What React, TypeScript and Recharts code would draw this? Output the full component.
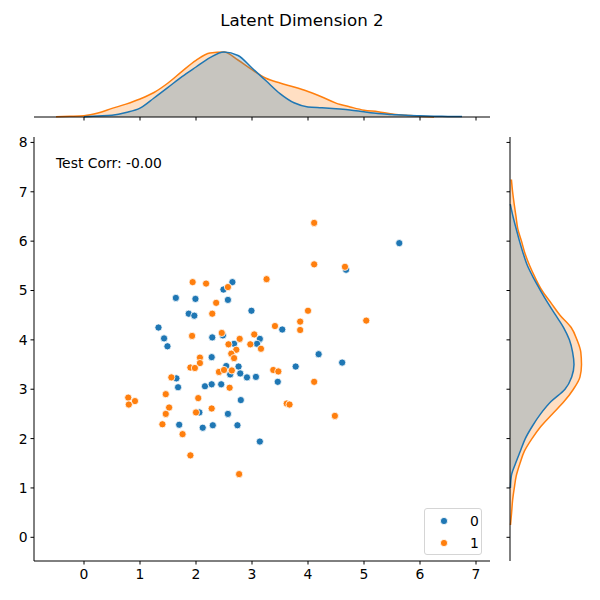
import React from "react"
import { ScatterChart, Scatter, XAxis, YAxis, AreaChart, Area } from "recharts"

// latent dim 1 (x) vs latent dim 2 (y), per class
const class0Points: [number, number][] = [
  [5.63, 5.96], [4.68, 5.42], [2.65, 5.17], [2.49, 5.02], [2.57, 4.81], [1.64, 4.85],
  [1.99, 4.83], [2.99, 4.59], [1.87, 4.53], [1.97, 4.49], [3.54, 4.21], [1.33, 4.25],
  [1.43, 4.03], [1.49, 3.87], [2.29, 4.05], [2.48, 4.09], [3.14, 4.02], [3.09, 3.92],
  [2.68, 3.92], [4.19, 3.71], [4.61, 3.54], [2.28, 3.65], [2.54, 3.47], [2.76, 3.46],
  [3.78, 3.46], [2.61, 3.3], [2.79, 3.32], [2.91, 3.24], [3.07, 3.25], [1.65, 3.22],
  [1.68, 3.04], [2.16, 3.06], [2.28, 3.1], [2.45, 3.1], [3.46, 3.15], [2.8, 2.78],
  [2.06, 2.53], [2.57, 2.5], [1.7, 2.28], [2.12, 2.22], [2.3, 2.27], [2.74, 2.27],
  [3.14, 1.94],
]

const class1Points: [number, number][] = [
  [4.11, 6.37], [4.11, 5.53], [4.66, 5.48], [3.26, 5.23], [1.94, 5.17], [2.18, 5.14],
  [2.57, 5.07], [2.36, 4.75], [2.29, 4.53], [4.0, 4.59], [5.04, 4.39], [3.41, 4.28],
  [3.86, 4.37], [3.86, 4.2], [1.93, 4.08], [2.46, 4.14], [3.04, 4.11], [2.78, 4.02],
  [2.58, 3.91], [2.97, 3.91], [3.16, 3.82], [2.72, 3.8], [2.63, 3.72], [2.68, 3.63],
  [2.07, 3.64], [2.07, 3.53], [1.9, 3.44], [1.98, 3.43], [2.41, 3.35], [2.5, 3.39],
  [2.64, 3.38], [3.38, 3.39], [3.47, 3.36], [1.56, 3.24], [4.11, 3.15], [2.6, 3.03],
  [0.79, 2.83], [0.91, 2.76], [0.8, 2.69], [1.46, 2.9], [2.04, 2.82], [1.52, 2.63],
  [2.28, 2.61], [1.46, 2.5], [2.0, 2.53], [3.62, 2.71], [3.67, 2.69], [4.48, 2.46],
  [1.4, 2.29], [1.76, 2.09], [1.9, 1.66], [2.77, 1.28],
]

// marginal density of x (relative units)
const kdeXGrid = [
  -0.75, -0.5, -0.25, 0, 0.25, 0.5, 0.75, 1, 1.25, 1.5, 1.75, 2, 2.25, 2.5, 2.75, 3,
  3.25, 3.5, 3.75, 4, 4.25, 4.5, 4.75, 5, 5.25, 5.5, 5.75, 6, 6.25, 6.5, 6.75, 7,
]
const kdeX0 = [
  null, null, null, 0.3, 1, 1.8, 4.5, 8.8, 19, 29.6, 40.4, 50, 59.4, 65, 61.5, 49,
  36.2, 23.4, 14.2, 10.1, 9.2, 8.2, 7.1, 5.2, 3.5, 2.6, 1.7, 1.2, 0.8, 0.6, 0.4, null,
]
const kdeX1 = [
  null, 0.3, 0.7, 1.3, 4, 8.6, 12.9, 18, 24.5, 34, 45.7, 56.7, 64, 65, 57, 47.3,
  38.8, 34, 30, 25.5, 20, 13.9, 10.1, 6.8, 5.3, 2.9, 1.8, 0.7, 0.1, null, null, null,
]

// marginal density of y (relative units)
const kdeYGrid = [
  0, 0.25, 0.5, 0.75, 1, 1.25, 1.5, 1.75, 2, 2.25, 2.5, 2.75, 3, 3.25, 3.5, 3.75,
  4, 4.25, 4.5, 4.75, 5, 5.25, 5.5, 5.75, 6, 6.25, 6.5, 6.75, 7, 7.25, 7.5,
]
const kdeY0 = [
  null, null, null, null, 0.4, 1.4, 5.6, 10.4, 15.3, 22.3, 30.6, 41, 55, 61.7, 64, 62.6,
  59.4, 53.6, 45.7, 37.8, 30.5, 23.6, 17.5, 13.2, 9.5, 6.2, 3, 0.3, null, null, null,
]
const kdeY1 = [
  null, 0.5, 1.6, 2.6, 4.3, 6.3, 10, 14.5, 22, 31, 42.4, 54, 63.4, 70, 71.5, 70.8,
  67, 61.2, 50, 41, 32, 25.4, 19.7, 15, 11.5, 7.8, 6, 4.2, 2.6, 1.4, null,
]

const xTicks = [0, 1, 2, 3, 4, 5, 6, 7]
const yTicks = [0, 1, 2, 3, 4, 5, 6, 7, 8]

const BLUE = "#1f77b4"
const ORANGE = "#ff7f0e"
const X_DOMAIN: [number, number] = [-0.893, 7.25]
const Y_DOMAIN: [number, number] = [-0.48, 8.11]
const FONT = '"DejaVu Sans", sans-serif'

const scatter0 = class0Points.map(([x, y]) => ({ x, y }))
const scatter1 = class1Points.map(([x, y]) => ({ x, y }))
const margX = kdeXGrid.map((x, i) => ({ x, c0: kdeX0[i], c1: kdeX1[i] }))
const margY = kdeYGrid.map((y, i) => ({ y, c0: kdeY0[i], c1: kdeY1[i] }))

const tickStyle = { fill: "#000", fontSize: 13.9, fontFamily: FONT }
const axisLine = { stroke: "#000", strokeWidth: 1 }
// marginal axes keep their tick marks but drop the labels
const noLabel = () => <g />

const dot = (color: string) => (props: any) => (
  <circle cx={props.cx} cy={props.cy} r={3.6} fill={color} stroke="#fff" strokeWidth={0.8} />
)

function LegendBox() {
  const rows = [
    { label: "0", color: BLUE },
    { label: "1", color: ORANGE },
  ]
  return (
    <div
      style={{
        position: "absolute", left: 424, top: 508, width: 58, height: 47, boxSizing: "border-box",
        border: "1px solid #d5d5d5", borderRadius: 3, background: "rgba(255,255,255,0.8)",
      }}
    >
      {rows.map((r, i) => (
        <div key={r.label} style={{ position: "absolute", left: 0, top: 3 + i * 22, height: 18, width: 56 }}>
          <svg width={30} height={18} style={{ position: "absolute", left: 4, top: 0 }}>
            <circle cx={15} cy={9} r={3.6} fill={r.color} stroke="#fff" strokeWidth={0.8} />
          </svg>
          <span style={{ position: "absolute", left: 45, top: 0, lineHeight: "18px", fontSize: 13.9 }}>{r.label}</span>
        </div>
      ))}
    </div>
  )
}

export default function App() {
  return (
    <div
      style={{
        position: "absolute", left: 0, top: 0, width: 600, height: 600,
        background: "#fff", fontFamily: FONT, color: "#000",
      }}
    >
      <div style={{ position: "absolute", left: 0, top: 10, width: 604, textAlign: "center", fontSize: 16.7, lineHeight: "20px" }}>
        Latent Dimension 2
      </div>

      {/* top marginal */}
      <div style={{ position: "absolute", left: 0, top: 0 }}>
        <AreaChart width={600} height={140} data={margX} margin={{ top: 32, right: 110, bottom: 3, left: 34 }}>
          <XAxis
            dataKey="x" type="number" domain={X_DOMAIN} ticks={xTicks} allowDataOverflow
            tick={noLabel} tickSize={3.5} height={20} axisLine={axisLine} tickLine={axisLine}
          />
          <YAxis hide type="number" domain={[0, 85]} />
          <Area dataKey="c1" type="monotone" stroke={ORANGE} strokeWidth={1.5} fill={ORANGE} fillOpacity={0.25} isAnimationActive={false} />
          <Area dataKey="c0" type="monotone" stroke={BLUE} strokeWidth={1.5} fill={BLUE} fillOpacity={0.25} isAnimationActive={false} />
        </AreaChart>
      </div>

      {/* joint scatter */}
      <div style={{ position: "absolute", left: 0, top: 0 }}>
        <ScatterChart width={600} height={600} margin={{ top: 137, right: 110, bottom: 9, left: 0 }}>
          <XAxis
            dataKey="x" type="number" domain={X_DOMAIN} ticks={xTicks} allowDataOverflow
            tick={tickStyle} tickSize={3.5} tickMargin={5} height={30} axisLine={axisLine} tickLine={axisLine}
          />
          <YAxis
            dataKey="y" type="number" domain={Y_DOMAIN} ticks={yTicks} allowDataOverflow
            tick={tickStyle} tickSize={3.5} tickMargin={3} width={34} axisLine={axisLine} tickLine={axisLine}
          />
          <Scatter name="0" data={scatter0} shape={dot(BLUE)} isAnimationActive={false} />
          <Scatter name="1" data={scatter1} shape={dot(ORANGE)} isAnimationActive={false} />
        </ScatterChart>
      </div>

      {/* right marginal */}
      <div style={{ position: "absolute", left: 470, top: 0 }}>
        <AreaChart layout="vertical" width={130} height={600} data={margY} margin={{ top: 137, right: 5, bottom: 39, left: 0 }}>
          <XAxis hide type="number" domain={[0, 85]} />
          <YAxis
            dataKey="y" type="number" domain={Y_DOMAIN} ticks={yTicks} allowDataOverflow reversed
            tick={noLabel} tickSize={3.5} width={40} axisLine={axisLine} tickLine={axisLine}
          />
          <Area dataKey="c1" type="monotone" stroke={ORANGE} strokeWidth={1.5} fill={ORANGE} fillOpacity={0.25} isAnimationActive={false} />
          <Area dataKey="c0" type="monotone" stroke={BLUE} strokeWidth={1.5} fill={BLUE} fillOpacity={0.25} isAnimationActive={false} />
        </AreaChart>
      </div>

      <div style={{ position: "absolute", left: 56, top: 155, fontSize: 13.9, lineHeight: "16px" }}>Test Corr: -0.00</div>

      <LegendBox />
    </div>
  )
}
